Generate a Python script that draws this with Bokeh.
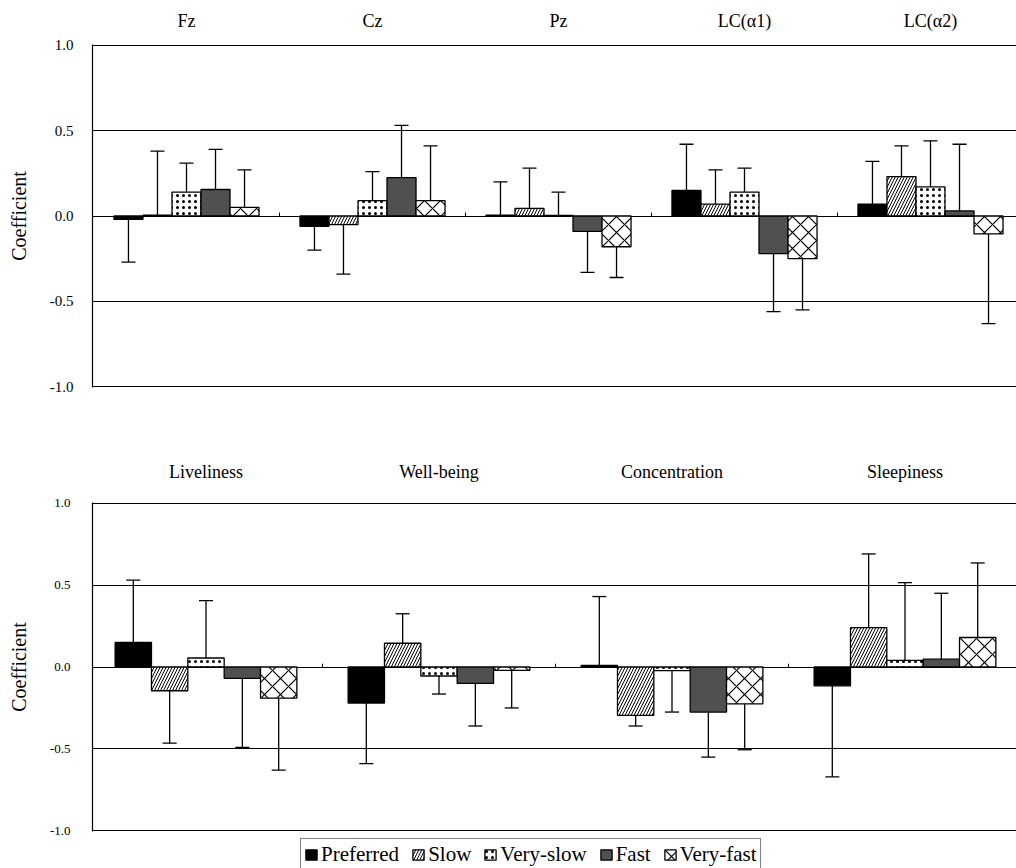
from bokeh.plotting import figure
from bokeh.models import (ColumnDataSource, Whisker, TeeHead, FixedTicker,
                          PrintfTickFormatter, Range1d, Legend, LegendItem)
from bokeh.layouts import column
from bokeh.embed import file_html
from bokeh.resources import INLINE

SERIES = ["Preferred", "Slow", "Very-slow", "Fast", "Very-fast"]

# ---- top panel (EEG) ----
top_groups = ["Fz", "Cz", "Pz", "LC(α1)", "LC(α2)"]
top_preferred = [-0.02, -0.06, 0.005, 0.15, 0.07]
top_preferred_tip = [-0.27, -0.20, 0.20, 0.42, 0.32]
top_slow = [0.005, -0.05, 0.045, 0.07, 0.23]
top_slow_tip = [0.38, -0.34, 0.28, 0.27, 0.41]
top_veryslow = [0.14, 0.09, 0.003, 0.14, 0.17]
top_veryslow_tip = [0.31, 0.26, 0.14, 0.28, 0.44]
top_fast = [0.155, 0.225, -0.09, -0.22, 0.03]
top_fast_tip = [0.39, 0.53, -0.33, -0.56, 0.42]
top_veryfast = [0.05, 0.09, -0.18, -0.25, -0.105]
top_veryfast_tip = [0.27, 0.41, -0.36, -0.55, -0.63]

# ---- bottom panel (mood) ----
bot_groups = ["Liveliness", "Well-being", "Concentration", "Sleepiness"]
bot_preferred = [0.15, -0.22, 0.01, -0.115]
bot_preferred_tip = [0.53, -0.59, 0.43, -0.67]
bot_slow = [-0.145, 0.145, -0.295, 0.24]
bot_slow_tip = [-0.465, 0.325, -0.36, 0.69]
bot_veryslow = [0.055, -0.055, -0.022, 0.04]
bot_veryslow_tip = [0.405, -0.165, -0.275, 0.515]
bot_fast = [-0.07, -0.10, -0.275, 0.048]
bot_fast_tip = [-0.49, -0.36, -0.55, 0.45]
bot_veryfast = [-0.19, -0.02, -0.225, 0.18]
bot_veryfast_tip = [-0.63, -0.25, -0.505, 0.635]

y_ticks = [-1.0, -0.5, 0.0, 0.5, 1.0]

STYLES = {
    "Preferred": dict(fill_color="black"),
    "Slow": dict(fill_color="white", hatch_pattern="/", hatch_color="black",
                 hatch_scale=6, hatch_weight=1),
    "Very-slow": dict(fill_color="white", hatch_pattern=".", hatch_color="black",
                      hatch_scale=6, hatch_weight=2.5),
    "Fast": dict(fill_color="#505050"),
    "Very-fast": dict(fill_color="white", hatch_pattern="x", hatch_color="black",
                      hatch_scale=16, hatch_weight=1.2),
}
FONT = "Liberation Serif"
W = 1016
LEFT = 92          # shared left border of the stacked plots
BAR_W = 0.156
OFFSETS = [-2 * BAR_W, -BAR_W, 0.0, BAR_W, 2 * BAR_W]


def panel(groups, vals, tips, height, b_top, b_bottom, group_px, start_px,
          title_size, tick_size, title_standoff, label_standoff, tick_standoff):
    x_start = (LEFT - start_px) / group_px
    x_end = x_start + (W - LEFT) / group_px
    p = figure(width=W, height=height, x_range=Range1d(x_start, x_end),
               y_range=Range1d(-1.004, 1.004), x_axis_location="above",
               output_backend="svg", toolbar_location=None,
               min_border_left=LEFT, min_border_right=0,
               min_border_top=b_top, min_border_bottom=b_bottom,
               background_fill_color="white", border_fill_color="white")
    p.outline_line_color = None
    p.xgrid.visible = False
    p.ygrid.ticker = FixedTicker(ticks=y_ticks)
    p.ygrid.grid_line_color = "black"
    p.ygrid.grid_line_width = 1.2

    ax = p.xaxis[0]
    ax.ticker = FixedTicker(ticks=[i + 0.5 for i in range(len(groups))])
    ax.major_label_overrides = {i + 0.5: g for i, g in enumerate(groups)}
    ax.axis_line_color = None
    ax.major_tick_line_color = None
    ax.minor_tick_line_color = None
    ax.major_label_text_font = FONT
    ax.major_label_text_font_size = title_size
    ax.major_label_text_color = "black"
    ax.major_label_standoff = title_standoff

    ay = p.yaxis[0]
    ay.ticker = FixedTicker(ticks=y_ticks)
    ay.formatter = PrintfTickFormatter(format="%.1f")
    ay.axis_line_color = "black"
    ay.axis_line_width = 1.2
    ay.major_tick_line_color = None
    ay.minor_tick_line_color = None
    ay.major_label_text_font = FONT
    ay.major_label_text_font_size = tick_size
    ay.major_label_text_color = "black"
    ay.major_label_standoff = tick_standoff
    ay.axis_label = "Coefficient"
    ay.axis_label_text_font = FONT
    ay.axis_label_text_font_style = "normal"
    ay.axis_label_text_font_size = "20px"
    ay.axis_label_text_color = "black"
    ay.axis_label_standoff = label_standoff

    # small separator ticks on zero line
    seps = list(range(1, len(groups)))
    p.segment(x0=seps, y0=[0] * len(seps), x1=seps, y1=[0.02] * len(seps),
              line_color="black", line_width=1)

    sources = []
    for s, off, v, t in zip(SERIES, OFFSETS, vals, tips):
        xs = [i + 0.5 + off for i in range(len(groups))]
        src = ColumnDataSource(dict(x=xs, top=v))
        sources.append(src)
        p.vbar(x="x", top="top", bottom=0, width=BAR_W, source=src,
               line_color="black", line_width=1.3, **STYLES[s])
        pos = [(x, a, b) for x, a, b in zip(xs, v, t) if b >= a]
        neg = [(x, a, b) for x, a, b in zip(xs, v, t) if b < a]
        if pos:
            sp = ColumnDataSource(dict(base=[q[0] for q in pos],
                                       lower=[q[1] for q in pos],
                                       upper=[q[2] for q in pos]))
            p.add_layout(Whisker(base="base", lower="lower", upper="upper",
                                 source=sp, line_color="black", line_width=1.3,
                                 lower_head=None,
                                 upper_head=TeeHead(size=14, line_color="black",
                                                    line_width=1.3)))
        if neg:
            sn = ColumnDataSource(dict(base=[q[0] for q in neg],
                                       lower=[q[2] for q in neg],
                                       upper=[q[1] for q in neg]))
            p.add_layout(Whisker(base="base", lower="lower", upper="upper",
                                 source=sn, line_color="black", line_width=1.3,
                                 upper_head=None,
                                 lower_head=TeeHead(size=14, line_color="black",
                                                    line_width=1.3)))
    return p, sources


top, _ = panel(top_groups,
               [top_preferred, top_slow, top_veryslow, top_fast, top_veryfast],
               [top_preferred_tip, top_slow_tip, top_veryslow_tip, top_fast_tip,
                top_veryfast_tip],
               height=430, b_top=44, b_bottom=43, group_px=186, start_px=93,
               title_size="18px", tick_size="15px", title_standoff=8,
               label_standoff=17, tick_standoff=13)

bot, bsrc = panel(bot_groups,
                  [bot_preferred, bot_slow, bot_veryslow, bot_fast, bot_veryfast],
                  [bot_preferred_tip, bot_slow_tip, bot_veryslow_tip, bot_fast_tip,
                   bot_veryfast_tip],
                  height=408, b_top=72, b_bottom=7, group_px=233, start_px=89,
                  title_size="18px", tick_size="13px", title_standoff=15,
                  label_standoff=17, tick_standoff=16)

# legend strip below the lower panel; its proxy renderers share the lower
# panel's data and are hidden, only their legend glyphs are shown
leg = figure(width=W, height=30, output_backend="svg", toolbar_location=None,
             x_range=Range1d(0, 4), y_range=Range1d(-1, 1),
             x_axis_location=None, y_axis_location=None,
             min_border=0, background_fill_color="white",
             border_fill_color="white")
leg.outline_line_color = None
leg.grid.visible = False
items = []
for s, src in zip(SERIES, bsrc):
    r = leg.vbar(x="x", top="top", bottom=0, width=BAR_W, source=src,
                 line_color="black", line_width=1.3, **STYLES[s])
    r.visible = False
    items.append(LegendItem(label=s, renderers=[r]))
legend = Legend(items=items, orientation="horizontal", location=(208, -3),
                label_text_font=FONT, label_text_font_size="21px",
                label_text_color="black",
                glyph_width=14, glyph_height=13, label_standoff=3, spacing=12,
                padding=3, margin=0, border_line_color="black",
                border_line_width=1.2, label_height=20,
                inactive_fill_alpha=0.0,
                background_fill_color="white")
leg.add_layout(legend)

layout = column(top, bot, leg, spacing=0)
open("out.html", "w").write(file_html(layout, INLINE))
